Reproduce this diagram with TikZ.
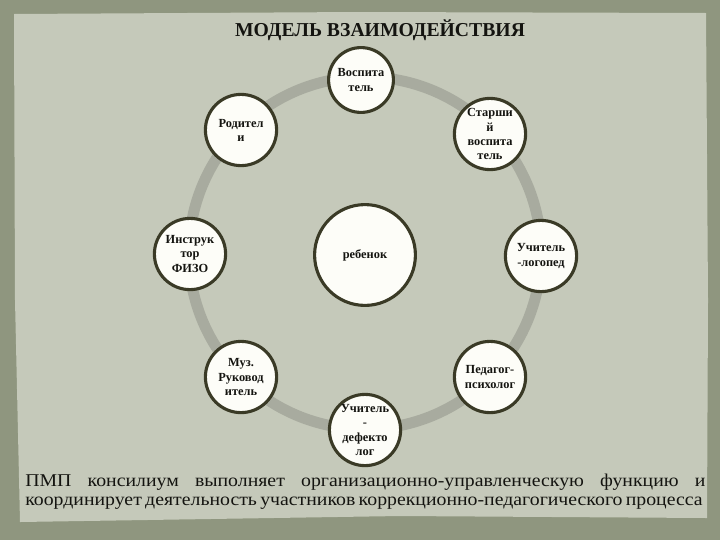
\documentclass[tikz,border=0pt]{standalone}
\usepackage{fontspec}
\setmainfont{Liberation Serif}
\newfontfamily\notefont[FakeStretch=1.10]{Liberation Serif}
\usepackage{xcolor}
\definecolor{modelFrame}{HTML}{8F967F}
\definecolor{modelPaper}{HTML}{C5C9BA}
\definecolor{modelRing}{HTML}{A8AB9F}
\definecolor{modelBorder}{HTML}{3A3A26}
\definecolor{modelFill}{HTML}{FDFDF8}
\definecolor{modelText}{HTML}{141410}
\usepackage{tikz}
\usetikzlibrary{positioning}
\tikzset{
    member/.style={
        draw=modelBorder,
        fill=modelFill,
        circle,
        line width=2.2pt,
        minimum size=1.78cm,
        inner sep=0pt,
        align=center,
        text=modelText,
        font=\fontsize{8.8}{10}\selectfont\bfseries
    },
    child/.style={
        member,
        minimum size=2.52cm
    },
    ring/.style={
        draw=modelRing,
        line width=7.8pt
    },
    title/.style={
        font=\fontsize{14}{16}\selectfont\bfseries,
        text=modelText
    },
    note/.style={
        font=\notefont\fontsize{12.8}{13.6}\selectfont,
        text=modelText,
        align=left,
        inner sep=0pt
    }
}

\begin{document}
\begin{tikzpicture}[x=0.025cm,y=-0.025cm]
    % background
    \fill[modelFrame] (0,0) rectangle (720,540);
    \fill[modelPaper] (14,14) -- (360,12) -- (706,13) -- (708,300) -- (707,518)
        -- (400,516) -- (20,522) -- (15,300) -- cycle;
    \useasboundingbox (0,0) rectangle (720,540);

    \node[title] (head) at (380,30) {МОДЕЛЬ ВЗАИМОДЕЙСТВИЯ};

    % ring
    \coordinate (mid) at (365,253);
    \draw[ring] (mid) circle[radius=4.4cm];

    % members
    \node[member, minimum size=1.62cm] (vosp) at (361,80) {Воспита\\тель};
    \node[member] (rod) at (241,130) {Родител\\и};
    \node[member] (star) at (490,134) {Старши\\й\\воспита\\тель};
    \node[member] (instr) at (190,254) {Инструк\\тор\\ФИЗО};
    \node[child] (reb) at (365,255) {ребенок};
    \node[member] (log) at (541,256) {Учитель\\-логопед};
    \node[member] (muz) at (241,377) {Муз.\\Руковод\\итель};
    \node[member] (psy) at (490,377) {Педагог-\\психолог};
    \node[member] (def) at (365,430) {Учитель\\-\\дефекто\\лог};

    % bottom text
    \node[note, anchor=north west] (pmp) at (25,474) {%
        \makebox[17cm][s]{ПМП консилиум выполняет организационно-управленческую функцию и}\\
        \makebox[16.9cm][s]{координирует деятельность участников коррекционно-педагогического процесса}};
\end{tikzpicture}
\end{document}
